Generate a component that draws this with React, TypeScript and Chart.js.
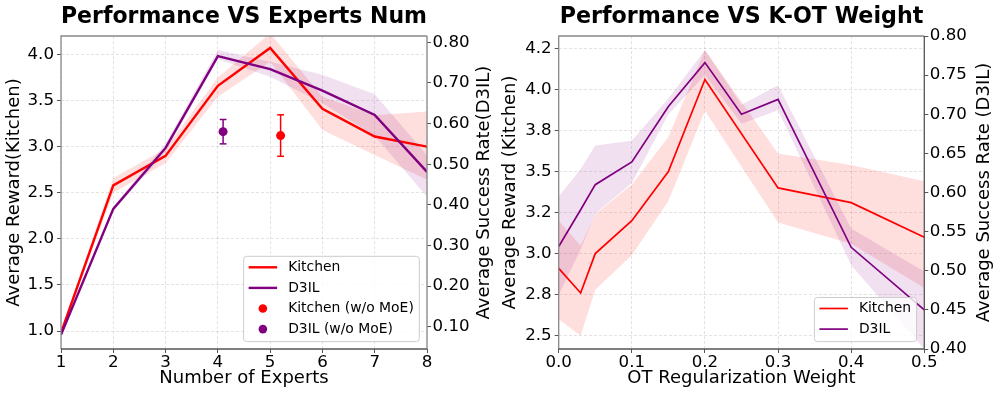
import React, { useEffect, useRef } from 'react';
import { Chart, registerables } from 'chart.js';

Chart.register(...registerables);

const FONT = "'DejaVu Sans', 'Liberation Sans', sans-serif";
const RED = '#ff0000';
const PURPLE = '#800080';
const RED_FILL = 'rgba(255,0,0,0.13)';
const PURPLE_FILL = 'rgba(128,0,128,0.12)';
const GRID = 'rgba(0,0,0,0.14)';

// ---------- Left chart: Performance VS Experts Num ----------
const experts = [1, 2, 3, 4, 5, 6, 7, 8];
const kitchenReward = [0.98, 2.58, 2.9, 3.66, 4.07, 3.41, 3.11, 3.0];
const kitchenRewardLow = [0.96, 2.5, 2.82, 3.54, 3.92, 3.18, 2.91, 2.64];
const kitchenRewardHigh = [1.0, 2.66, 2.98, 3.75, 4.23, 3.54, 3.34, 3.38];
const d3ilSuccess = [0.08, 0.39, 0.54, 0.766, 0.734, 0.681, 0.621, 0.481];
const d3ilSuccessLow = [0.075, 0.385, 0.53, 0.758, 0.715, 0.65, 0.57, 0.42];
const d3ilSuccessHigh = [0.085, 0.395, 0.55, 0.781, 0.752, 0.72, 0.672, 0.522];
const kitchenWoMoEX = [5.2];
const kitchenWoMoEMean = [3.12];
const kitchenWoMoEErr = [0.225];
const d3ilWoMoEX = [4.1];
const d3ilWoMoEMean = [0.58];
const d3ilWoMoEErr = [0.03];

// ---------- Right chart: Performance VS K-OT Weight ----------
const otWeightKitchen = [0, 0.03, 0.05, 0.1, 0.15, 0.2, 0.3, 0.4, 0.5];
const kitchenOT = [2.91, 2.76, 3.0, 3.2, 3.5, 4.06, 3.4, 3.31, 3.1];
const kitchenOTLow = [2.6, 2.5, 2.78, 2.99, 3.32, 3.87, 3.19, 3.06, 2.79];
const kitchenOTHigh = [3.2, 3.05, 3.24, 3.42, 3.71, 4.24, 3.61, 3.54, 3.44];
const otWeightD3IL = [0, 0.03, 0.05, 0.1, 0.15, 0.2, 0.25, 0.3, 0.4, 0.5];
const d3ilOT = [0.531, 0.578, 0.61, 0.639, 0.71, 0.766, 0.7, 0.719, 0.53, 0.45];
const d3ilOTLow = [0.469, 0.527, 0.573, 0.612, 0.7, 0.75, 0.688, 0.705, 0.507, 0.4];
const d3ilOTHigh = [0.595, 0.63, 0.66, 0.666, 0.72, 0.782, 0.712, 0.737, 0.554, 0.499];

const pts = (xs: number[], ys: number[]) => xs.map((x, i) => ({ x, y: ys[i] }));

function fmtHalfEven1(v: number): string {
  const s = Math.round(v * 100);
  if (Math.abs(s % 10) === 5) {
    let t = Math.floor(s / 10);
    if (t % 2 !== 0) t += 1;
    return (t / 10).toFixed(1);
  }
  return v.toFixed(1);
}

const framePlugin = {
  id: 'frame',
  afterDatasetsDraw(chart: any, _a: any, opts: any) {
    const { ctx, chartArea } = chart;
    const { left, right, top, bottom } = chartArea;
    ctx.save();
    ctx.lineWidth = 1.3;
    ctx.strokeStyle = '#888888';
    ctx.beginPath();
    ctx.moveTo(left, bottom);
    ctx.lineTo(left, top);
    ctx.lineTo(right, top);
    ctx.stroke();
    ctx.strokeStyle = opts.rightColor || '#888888';
    ctx.beginPath();
    ctx.moveTo(right, top);
    ctx.lineTo(right, bottom);
    ctx.stroke();
    ctx.strokeStyle = '#555555';
    ctx.beginPath();
    ctx.moveTo(left, bottom);
    ctx.lineTo(right, bottom);
    ctx.stroke();
    ctx.restore();
  },
};

const sideTitlePlugin = {
  id: 'sideTitle',
  afterDraw(chart: any, _a: any, opts: any) {
    if (!opts || !opts.text) return;
    const { ctx, chartArea } = chart;
    ctx.save();
    ctx.translate(opts.x, (chartArea.top + chartArea.bottom) / 2);
    ctx.rotate(-Math.PI / 2);
    ctx.font = `18px ${FONT}`;
    ctx.fillStyle = '#000';
    ctx.textAlign = 'center';
    ctx.textBaseline = 'middle';
    ctx.fillText(opts.text, 0, 0);
    ctx.restore();
  },
};

const boxLegendPlugin = {
  id: 'boxLegend',
  afterDraw(chart: any, _a: any, opts: any) {
    const items = opts && opts.items;
    if (!items) return;
    const { ctx, chartArea } = chart;
    ctx.save();
    ctx.font = `13.9px ${FONT}`;
    const textW = Math.max(...items.map((it: any) => ctx.measureText(it.label).width));
    const padL = 5, handle = 28.5, gap = 11, padR = 5.5;
    const rowH = 20.6, padTop = 11, padBot = 12.5;
    const w = padL + handle + gap + textW + padR;
    const h = padTop + (items.length - 1) * rowH + padBot;
    const x0 = chartArea.right - 7.7 - w;
    const y0 = chartArea.bottom - 7.4 - h;
    ctx.beginPath();
    if (ctx.roundRect) ctx.roundRect(x0, y0, w, h, 3);
    else ctx.rect(x0, y0, w, h);
    ctx.fillStyle = 'rgba(255,255,255,0.8)';
    ctx.fill();
    ctx.lineWidth = 1;
    ctx.strokeStyle = '#cccccc';
    ctx.stroke();
    items.forEach((it: any, i: number) => {
      const cy = y0 + padTop + i * rowH;
      if (it.type === 'line') {
        ctx.strokeStyle = it.color;
        ctx.lineWidth = it.width;
        ctx.beginPath();
        ctx.moveTo(x0 + padL, cy);
        ctx.lineTo(x0 + padL + handle, cy);
        ctx.stroke();
      } else {
        ctx.fillStyle = it.color;
        ctx.beginPath();
        ctx.arc(x0 + padL + handle / 2, cy, 4.3, 0, Math.PI * 2);
        ctx.fill();
      }
      ctx.fillStyle = '#000';
      ctx.textAlign = 'left';
      ctx.textBaseline = 'middle';
      ctx.fillText(it.label, x0 + padL + handle + gap, cy);
    });
    ctx.restore();
  },
};

const tickFont = { family: FONT, size: 16.67 };
const labelFont = { family: FONT, size: 18 };

function xScale(min: number, max: number, step: number, title: string, fmt: (v: number) => string) {
  return {
    type: 'linear',
    min,
    max,
    ticks: { stepSize: step, font: tickFont, color: '#000', padding: 0, maxRotation: 0, autoSkip: false, includeBounds: false, callback: (v: any) => fmt(Number(v)) },
    grid: { color: GRID, lineWidth: 0.8, tickLength: 4, tickColor: '#555', tickWidth: 1, borderDash: [3, 2] },
    border: { display: false, dash: [3, 2] },
    title: { display: true, text: title, font: labelFont, color: '#000', padding: { top: 0, bottom: 6.4 } },
    afterFit: (s: any) => { s.height = 47; },
  };
}

function yLeft(min: number, max: number, step: number, title: string, fmt: (v: number) => string, width: number) {
  return {
    type: 'linear',
    position: 'left',
    min,
    max,
    ticks: { stepSize: step, font: tickFont, color: '#000', padding: 3, includeBounds: false, callback: (v: any) => fmt(Number(v)) },
    grid: { color: GRID, lineWidth: 0.8, tickLength: 4, tickColor: '#555', tickWidth: 1, borderDash: [3, 2] },
    border: { display: false, dash: [3, 2] },
    title: { display: true, text: title, font: labelFont, color: '#000', padding: { top: 3.2, bottom: 0 } },
    afterFit: (s: any) => { s.width = width; },
  };
}

function yRight(min: number, max: number, step: number, fmt: (v: number) => string, width: number) {
  return {
    type: 'linear',
    position: 'right',
    min,
    max,
    ticks: { stepSize: step, font: tickFont, color: '#000', padding: 1.5, includeBounds: false, callback: (v: any) => fmt(Number(v)) },
    grid: { drawOnChartArea: false, tickLength: 4, tickColor: '#555', tickWidth: 1 },
    border: { display: false },
    title: { display: false },
    afterFit: (s: any) => { s.width = width; },
  };
}

function bandSets(xs: number[], lo: number[], hi: number[], axis: string, fill: string, order: number) {
  return [
    { data: pts(xs, lo), yAxisID: axis, borderWidth: 0, pointRadius: 0, fill: false, order, borderColor: 'transparent' },
    { data: pts(xs, hi), yAxisID: axis, borderWidth: 0, pointRadius: 0, fill: '-1', backgroundColor: fill, order, borderColor: 'transparent' },
  ];
}

function lineSet(xs: number[], ys: number[], axis: string, color: string, width: number, order: number) {
  return { data: pts(xs, ys), yAxisID: axis, borderColor: color, borderWidth: width, pointRadius: 0, fill: false, tension: 0, order };
}

function errSets(xs: number[], mean: number[], err: number[], axis: string, color: string) {
  const bar = {
    data: [{ x: xs[0], y: mean[0] - err[0] }, { x: xs[0], y: mean[0] + err[0] }],
    yAxisID: axis, borderColor: color, borderWidth: 1.5, pointStyle: 'line', pointRadius: 3.4,
    pointBorderWidth: 1.5, pointBorderColor: color, fill: false, order: 3,
  };
  const marker = {
    data: pts(xs, mean), yAxisID: axis, showLine: false, pointStyle: 'circle', pointRadius: 4.5,
    pointBackgroundColor: color, pointBorderWidth: 0, pointBorderColor: color, fill: false, order: 2,
  };
  return [bar, marker];
}

function titleOpts(text: string) {
  return {
    display: true, text, fullSize: false, color: '#000',
    font: { family: FONT, size: 22.2, weight: 'bold' },
    padding: { top: 3.5, bottom: 5.86 },
  };
}

const leftConfig: any = {
  type: 'line',
  data: {
    datasets: [
      ...bandSets(experts, kitchenRewardLow, kitchenRewardHigh, 'y', RED_FILL, 10),
      ...bandSets(experts, d3ilSuccessLow, d3ilSuccessHigh, 'y1', PURPLE_FILL, 9),
      lineSet(experts, kitchenReward, 'y', RED, 2.4, 5),
      lineSet(experts, d3ilSuccess, 'y1', PURPLE, 2.4, 4),
      ...errSets(kitchenWoMoEX, kitchenWoMoEMean, kitchenWoMoEErr, 'y', RED),
      ...errSets(d3ilWoMoEX, d3ilWoMoEMean, d3ilWoMoEErr, 'y1', PURPLE),
    ],
  },
  options: {
    responsive: false,
    animation: false,
    events: [],
    layout: { padding: 0 },
    scales: {
      x: xScale(1, 8, 1, 'Number of Experts', (v) => String(Math.round(v))),
      y: yLeft(0.805, 4.2, 0.5, 'Average Reward(Kitchen)', (v) => v.toFixed(1), 61),
      y1: yRight(0.045, 0.8155, 0.1, (v) => v.toFixed(2), 69),
    },
    plugins: {
      legend: { display: false },
      tooltip: { enabled: false },
      title: titleOpts('Performance VS Experts Num'),
      frame: { rightColor: '#888888' },
      sideTitle: { text: 'Average Success Rate(D3IL)', x: 484.2 },
      boxLegend: {
        items: [
          { label: 'Kitchen', type: 'line', color: RED, width: 2.4 },
          { label: 'D3IL', type: 'line', color: PURPLE, width: 2.4 },
          { label: 'Kitchen (w/o MoE)', type: 'dot', color: RED },
          { label: 'D3IL (w/o MoE)', type: 'dot', color: PURPLE },
        ],
      },
    },
  },
  plugins: [framePlugin, sideTitlePlugin, boxLegendPlugin],
};

const rightConfig: any = {
  type: 'line',
  data: {
    datasets: [
      ...bandSets(otWeightKitchen, kitchenOTLow, kitchenOTHigh, 'y', RED_FILL, 10),
      ...bandSets(otWeightD3IL, d3ilOTLow, d3ilOTHigh, 'y1', PURPLE_FILL, 9),
      lineSet(otWeightKitchen, kitchenOT, 'y', RED, 1.7, 5),
      lineSet(otWeightD3IL, d3ilOT, 'y1', PURPLE, 1.7, 4),
    ],
  },
  options: {
    responsive: false,
    animation: false,
    events: [],
    layout: { padding: 0 },
    scales: {
      x: xScale(0, 0.5, 0.1, 'OT Regularization Weight', (v) => v.toFixed(1)),
      y: yLeft(2.419, 4.325, 0.25, 'Average Reward (Kitchen)', fmtHalfEven1, 62.7),
      y1: yRight(0.4, 0.8, 0.05, (v) => v.toFixed(2), 71.7),
    },
    plugins: {
      legend: { display: false },
      tooltip: { enabled: false },
      title: titleOpts('Performance VS K-OT Weight'),
      frame: { rightColor: '#555555' },
      sideTitle: { text: 'Average Success Rate (D3IL)', x: 488 },
      boxLegend: {
        items: [
          { label: 'Kitchen', type: 'line', color: RED, width: 1.7 },
          { label: 'D3IL', type: 'line', color: PURPLE, width: 1.7 },
        ],
      },
    },
  },
  plugins: [framePlugin, sideTitlePlugin, boxLegendPlugin],
};

function ChartCanvas({ config, left, width }: { config: any; left: number; width: number }) {
  const ref = useRef<HTMLCanvasElement>(null);
  useEffect(() => {
    const chart = new Chart(ref.current as HTMLCanvasElement, config);
    return () => chart.destroy();
  }, [config]);
  return (
    <canvas
      ref={ref}
      width={width}
      height={396}
      style={{ position: 'absolute', left, top: 0, width, height: 396 }}
    />
  );
}

export default function App() {
  return (
    <div style={{ position: 'absolute', left: 0, top: 0, width: 996, height: 396, background: '#ffffff', overflow: 'hidden' }}>
      <ChartCanvas config={leftConfig} left={0} width={496} />
      <ChartCanvas config={rightConfig} left={496} width={500} />
    </div>
  );
}
